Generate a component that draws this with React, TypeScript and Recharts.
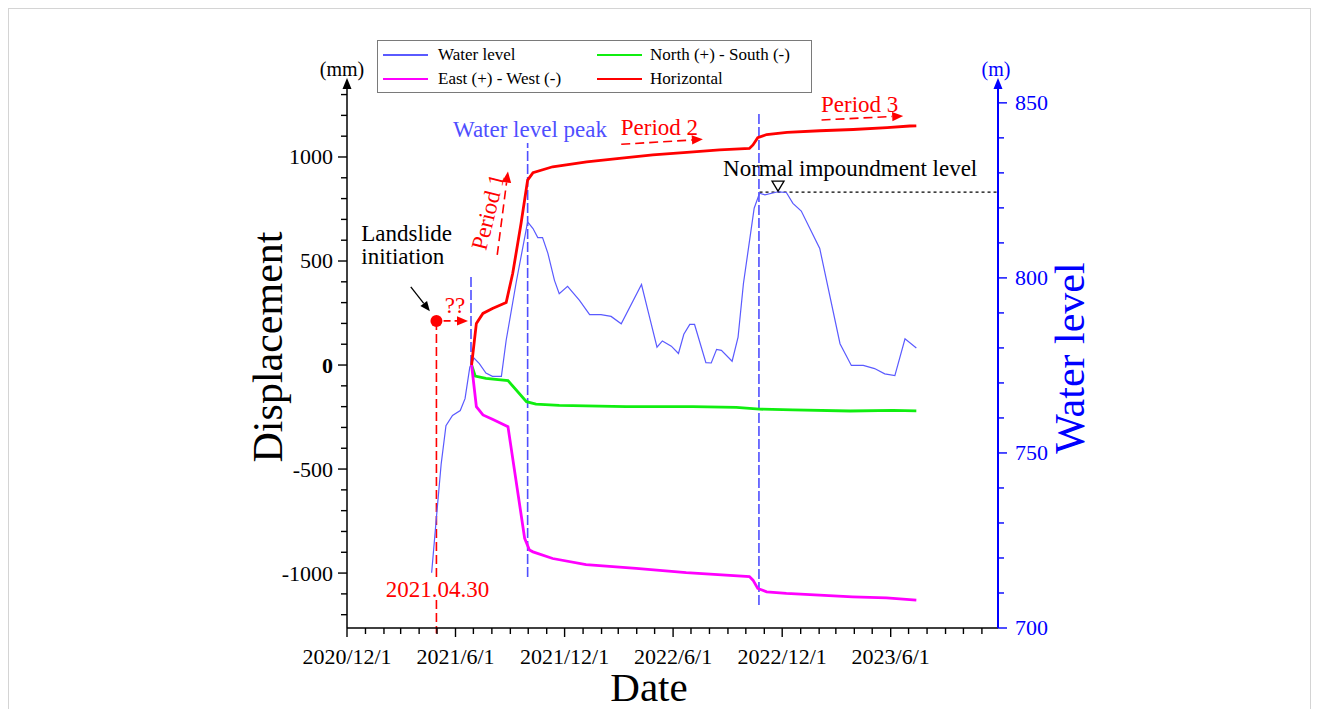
import React from 'react';
import { LineChart, Line, XAxis, YAxis, ReferenceLine, ReferenceDot, Legend, Label } from 'recharts';

const FONT = '"Liberation Serif", "Times New Roman", Times, serif';

// ---------- data ----------
const waterDates = ['2021-04-22','2021-04-30','2021-05-08','2021-05-16','2021-05-27','2021-06-09','2021-06-17','2021-06-25','2021-07-02','2021-07-11','2021-07-22','2021-08-02','2021-08-17','2021-08-25','2021-09-11','2021-09-30','2021-10-09','2021-10-17','2021-10-25','2021-11-03','2021-11-14','2021-11-22','2021-12-06','2021-12-26','2022-01-12','2022-01-31','2022-02-17','2022-03-06','2022-04-09','2022-04-20','2022-05-05','2022-05-14','2022-05-29','2022-06-10','2022-06-19','2022-06-29','2022-07-07','2022-07-26','2022-08-04','2022-08-13','2022-08-21','2022-09-08','2022-09-18','2022-09-27','2022-10-15','2022-10-24','2022-11-02','2022-11-24','2022-12-08','2022-12-19','2023-01-02','2023-02-02','2023-03-08','2023-03-27','2023-04-16','2023-05-05','2023-05-22','2023-06-08','2023-06-25','2023-07-14'];
const waterLevel = [715.8,731.6,746.9,757.8,760.7,762.1,765.5,774.5,777.1,775.5,772.8,771.9,771.9,782.2,798.9,816.0,814.1,811.5,811.5,807.0,799.3,795.5,797.6,793.6,789.5,789.5,789.0,786.9,798.1,790.5,780.2,782.0,780.5,778.4,783.9,786.7,786.7,775.8,775.7,779.6,779.3,776.2,783.1,798.4,819.9,824.2,823.7,824.6,824.4,821.3,819.1,808.4,781.2,775.0,775.0,774.1,772.6,772.1,782.6,780.0];

const horizDates = ['2021-06-28','2021-07-06','2021-07-17','2021-08-02','2021-08-25','2021-09-05','2021-09-19','2021-09-30','2021-10-09','2021-11-11','2022-01-07','2022-03-03','2022-04-28','2022-06-24','2022-08-18','2022-10-07','2022-10-13','2022-10-21','2022-11-05','2022-12-09','2023-02-02','2023-03-30','2023-05-26','2023-07-03','2023-07-14'];
const horizValues = [0,200,248,272,300,441,681,889,925,953,977,993,1010,1022,1034,1041,1058,1093,1108,1118,1126,1132,1141,1149,1150];

const nsDates = ['2021-06-28','2021-07-04','2021-07-22','2021-08-28','2021-09-28','2021-10-14','2021-11-22','2022-03-14','2022-07-04','2022-09-15','2022-10-24','2022-12-19','2023-03-25','2023-06-05','2023-07-14'];
const nsValues = [0,-53,-64,-75,-176,-188,-194,-200,-200,-204,-212,-216,-221,-218,-220];

const ewDates = ['2021-06-28','2021-07-06','2021-07-17','2021-08-02','2021-08-28','2021-09-25','2021-10-03','2021-10-09','2021-11-11','2022-01-06','2022-03-31','2022-06-23','2022-10-07','2022-10-13','2022-10-21','2022-11-05','2022-12-08','2023-03-29','2023-05-25','2023-07-14'];
const ewValues = [0,-200,-240,-261,-296,-833,-889,-898,-930,-959,-977,-998,-1017,-1034,-1074,-1090,-1098,-1114,-1119,-1130];

const xDomainDates = ['2020-12-01', '2023-11-28'];
const xMajorTickDates = ['2020-12-01','2021-06-01','2021-12-01','2022-06-01','2022-12-01','2023-06-01'];
const xMajorTickLabels = ['2020/12/1','2021/6/1','2021/12/1','2022/6/1','2022/12/1','2023/6/1'];
const leftDomain = [-1264, 1346];
const rightDomain = [700, 855.1];
const leftTicks = [-1200,-1100,-1000,-900,-800,-700,-600,-500,-400,-300,-200,-100,0,100,200,300,400,500,600,700,800,900,1000,1100,1200,1300];
const rightTicks = [700,710,720,730,740,750,760,770,780,790,800,810,820,830,840,850];

const initiationDate = '2021-04-30';
const initiationValue = 212;
const normalLevel = 824.5;
const peakLines = [
  { d: '2021-06-27', from: 0, to: 423 },
  { d: '2021-09-30', from: -1019, to: 1067 },
  { d: '2022-10-23', from: -1154, to: 1213 },
];

// ---------- helpers ----------
const toT = (s: string) => { const [y, m, d] = s.split('-').map(Number); return Date.UTC(y, m - 1, d); };
const xMin = toT(xDomainDates[0]);
const xMax = toT(xDomainDates[1]);
const majorTs = xMajorTickDates.map(toT);
const monthTicks: number[] = [];
for (let k = 0; k < 36; k++) monthTicks.push(Date.UTC(2020, 11 + k, 1));

const mk = (ds: string[], vs: number[]) => ds.map((d, i) => ({ t: toT(d), v: vs[i] }));
const waterData = mk(waterDates, waterLevel);
const horizData = mk(horizDates, horizValues);
const nsData = mk(nsDates, nsValues);
const ewData = mk(ewDates, ewValues);

const C_WATER = '#5a5aff';
const C_NS = '#10ee10';
const C_EW = '#ff00ff';
const C_H = '#ff0000';
const C_AXIS_R = '#0000ff';
const C_PEAK = '#4f4fff';

const XTick = (p: any) => {
  const v = p.payload.value;
  const i = majorTs.indexOf(v);
  const major = i >= 0;
  return (
    <g>
      <line x1={p.x} x2={p.x} y1={p.y} y2={p.y + (major ? 9 : 6)} stroke="#000" strokeWidth={1.4} />
      {major && (
        <text x={p.x} y={p.y + 36} textAnchor="middle" fontFamily={FONT} fontSize={22} fill="#000">{xMajorTickLabels[i]}</text>
      )}
    </g>
  );
};

const LeftTick = (p: any) => {
  const v = p.payload.value;
  const major = v % 500 === 0;
  return (
    <g>
      <line x1={p.x - (major ? 9 : 6)} x2={p.x} y1={p.y} y2={p.y} stroke="#000" strokeWidth={1.4} />
      {major && (
        <text x={p.x - 14} y={p.y} dy="0.34em" textAnchor="end" fontFamily={FONT} fontSize={22} fontWeight={v === 0 ? 'bold' : 'normal'} fill="#000">{v}</text>
      )}
    </g>
  );
};

const RightTick = (p: any) => {
  const v = p.payload.value;
  const major = v % 50 === 0;
  return (
    <g>
      <line x1={p.x} x2={p.x + (major ? 9 : 6)} y1={p.y} y2={p.y} stroke={C_AXIS_R} strokeWidth={1.4} />
      {major && (
        <text x={p.x + 17} y={p.y} dy="0.34em" textAnchor="start" fontFamily={FONT} fontSize={22} fill={C_AXIS_R}>{v}</text>
      )}
    </g>
  );
};

const arrowShape = (color: string, dash: string | undefined, width: number, head: number) => (p: any) => {
  const { x1, y1, x2, y2 } = p;
  const dx = x2 - x1, dy = y2 - y1;
  const len = Math.hypot(dx, dy) || 1;
  const ux = dx / len, uy = dy / len;
  const bx = x2 - ux * head, by = y2 - uy * head;
  const hw = head * 0.42;
  return (
    <g>
      <line x1={x1} y1={y1} x2={bx} y2={by} stroke={color} strokeWidth={width} strokeDasharray={dash} />
      <path d={`M${x2},${y2} L${bx - uy * hw},${by + ux * hw} L${bx + uy * hw},${by - ux * hw} Z`} fill={color} />
    </g>
  );
};

const textShape = (lines: string[], color: string, size: number, anchor: string, rotate = 0, lineGap = 23) => (p: any) => (
  <text
    x={p.cx}
    y={p.cy}
    textAnchor={anchor}
    dominantBaseline="central"
    fontFamily={FONT}
    fontSize={size}
    fill={color}
    transform={rotate ? `rotate(${rotate}, ${p.cx}, ${p.cy})` : undefined}
  >
    {lines.map((l, i) => (
      <tspan key={i} x={p.cx} dy={i === 0 ? 0 : lineGap}>{l}</tspan>
    ))}
  </text>
);

const annotations = [
  { d: '2020-12-25', v: 637, text: ['Landslide', 'initiation'], color: '#000', anchor: 'start', rot: 0 },
  { d: '2021-05-31', v: 290, text: ['??'], color: C_H, anchor: 'middle', rot: 0 },
  { d: '2021-07-25', v: 736, text: ['Period 1'], color: C_H, anchor: 'middle', rot: -76 },
  { d: '2021-10-04', v: 1135, text: ['Water level peak'], color: C_PEAK, anchor: 'middle', rot: 0 },
  { d: '2022-05-09', v: 1144, text: ['Period 2'], color: C_H, anchor: 'middle', rot: 0 },
  { d: '2023-04-10', v: 1255, text: ['Period 3'], color: C_H, anchor: 'middle', rot: 0 },
  { d: '2023-03-25', v: 947, text: ['Normal impoundment level'], color: '#000', anchor: 'middle', rot: 0 },
  { d: '2021-05-02', v: -1077, text: ['2021.04.30'], color: C_H, anchor: 'middle', rot: 0 },
];

const arrows = [
  { a: ['2021-03-18', 376], b: ['2021-04-19', 258], color: '#000', dash: undefined, w: 1.3, head: 10 },
  { a: ['2021-05-12', 212], b: ['2021-06-22', 212], color: C_H, dash: '7 4', w: 1.6, head: 11 },
  { a: ['2021-08-10', 529], b: ['2021-08-28', 930], color: C_H, dash: '9 5', w: 1.6, head: 11 },
  { a: ['2022-03-06', 1061], b: ['2022-07-21', 1085], color: C_H, dash: '9 5', w: 1.6, head: 11 },
  { a: ['2023-02-05', 1178], b: ['2023-06-22', 1197], color: C_H, dash: '9 5', w: 1.6, head: 11 },
];

const legendOrder = ['Water level', 'North (+) - South (-)', 'East (+) - West (-)', 'Horizontal'];
const LegendBox = (props: any) => {
  const payload = props.payload || [];
  const items = legendOrder.map((n) => payload.find((p: any) => p.value === n)).filter(Boolean);
  return (
    <div style={{ position: 'relative', width: 433, height: 51, border: '1.5px solid #7a7a7a', background: '#fff', fontFamily: FONT, fontSize: 17, color: '#000' }}>
      {items.map((p: any, i: number) => {
        const col = i % 2, row = Math.floor(i / 2);
        return (
          <div key={p.value} style={{ position: 'absolute', left: col ? 219 : 5, top: row ? 28 : 4, height: 20, display: 'flex', alignItems: 'center', whiteSpace: 'nowrap' }}>
            <span style={{ display: 'inline-block', width: 45, borderTop: `2px solid ${p.color}`, marginRight: col ? 8 : 10 }} />
            <span style={{ lineHeight: '20px' }}>{p.value}</span>
          </div>
        );
      })}
    </div>
  );
};

const LeftArrow = (p: any) => (
  <g>
    <path d={`M${p.cx},${p.cy - 7} L${p.cx - 4.5},${p.cy + 4} L${p.cx + 4.5},${p.cy + 4} Z`} fill="#000" />
    <text x={p.cx - 5} y={p.cy - 9} textAnchor="middle" fontFamily={FONT} fontSize={20} fill="#000">(mm)</text>
  </g>
);
const RightArrow = (p: any) => (
  <g>
    <path d={`M${p.cx},${p.cy - 7} L${p.cx - 4.5},${p.cy + 4} L${p.cx + 4.5},${p.cy + 4} Z`} fill={C_AXIS_R} />
    <text x={p.cx - 2} y={p.cy - 9} textAnchor="middle" fontFamily={FONT} fontSize={20} fill={C_AXIS_R}>(m)</text>
  </g>
);
const Triangle = (p: any) => (
  <path d={`M${p.cx - 6},${p.cy - 11} L${p.cx + 6},${p.cy - 11} L${p.cx},${p.cy - 1} Z`} fill="#fff" stroke="#000" strokeWidth={1.3} />
);
const RedDot = (p: any) => <circle cx={p.cx} cy={p.cy} r={6} fill={C_H} />;

export default function App() {
  return (
    <div style={{ width: 1303, height: 701, boxSizing: 'border-box', borderTop: '1px solid #d4d4d4', borderLeft: '1px solid #d4d4d4', borderRight: '1px solid #d4d4d4', fontFamily: FONT, background: '#fff' }}>
      <LineChart width={1301} height={700} margin={{ top: 76, right: 232, bottom: 51, left: 258 }}>
        <XAxis
          dataKey="t"
          type="number"
          domain={[xMin, xMax]}
          allowDataOverflow
          ticks={monthTicks}
          interval={0}
          tick={<XTick />}
          tickLine={false}
          tickSize={0}
          tickMargin={0}
          height={30}
          axisLine={{ stroke: '#000', strokeWidth: 1.5 }}
        >
          <Label
            content={(props: any) => {
              const vb = props.viewBox || { x: 0, y: 0, width: 0, height: 0 };
              return (
                <text x={vb.x + 302} y={vb.y + 59} textAnchor="middle" dominantBaseline="central" fontFamily={FONT} fontSize={41} fill="#000">Date</text>
              );
            }}
          />
        </XAxis>
        <YAxis
          yAxisId="left"
          type="number"
          domain={leftDomain}
          allowDataOverflow
          ticks={leftTicks}
          interval={0}
          tick={<LeftTick />}
          tickLine={false}
          tickSize={0}
          tickMargin={0}
          width={80}
          axisLine={{ stroke: '#000', strokeWidth: 1.5 }}
        >
          <Label
            content={(props: any) => {
              const vb = props.viewBox || { x: 0, y: 0, width: 0, height: 0 };
              const cx = vb.x + 1, cy = vb.y + vb.height / 2 - 9.5;
              return (
                <text x={cx} y={cy} transform={`rotate(-90, ${cx}, ${cy})`} textAnchor="middle" dominantBaseline="central" fontFamily={FONT} fontSize={42} fill="#000">Displacement</text>
              );
            }}
          />
        </YAxis>
        <YAxis
          yAxisId="right"
          orientation="right"
          type="number"
          domain={rightDomain}
          allowDataOverflow
          ticks={rightTicks}
          interval={0}
          tick={<RightTick />}
          tickLine={false}
          tickSize={0}
          tickMargin={0}
          width={80}
          axisLine={{ stroke: C_AXIS_R, strokeWidth: 2 }}
        >
          <Label
            content={(props: any) => {
              const vb = props.viewBox || { x: 0, y: 0, width: 0, height: 0 };
              const cx = vb.x + 72, cy = vb.y + vb.height / 2 + 1.5;
              return (
                <text x={cx} y={cy} transform={`rotate(-90, ${cx}, ${cy})`} textAnchor="middle" dominantBaseline="central" fontFamily={FONT} fontSize={42} fill={C_AXIS_R}>Water level</text>
              );
            }}
          />
        </YAxis>

        <Legend verticalAlign="middle" align="center" layout="horizontal" content={<LegendBox />} wrapperStyle={{ left: 368, top: 31, width: 'auto', height: 'auto' }} />

        {/* normal impoundment level */}
        <ReferenceLine yAxisId="right" segment={[{ x: toT('2022-10-24'), y: normalLevel }, { x: xMax, y: normalLevel }]} stroke="#000" strokeWidth={1.2} strokeDasharray="3 3" ifOverflow="visible" />

        {/* peak / event vertical lines */}
        {peakLines.map((l, i) => (
          <ReferenceLine key={`pk${i}`} yAxisId="left" segment={[{ x: toT(l.d), y: l.from }, { x: toT(l.d), y: l.to }]} stroke={C_PEAK} strokeWidth={1.6} strokeDasharray="10 3" ifOverflow="visible" />
        ))}
        <ReferenceLine yAxisId="left" segment={[{ x: toT(initiationDate), y: initiationValue }, { x: toT(initiationDate), y: -1019 }]} stroke={C_H} strokeWidth={1.6} strokeDasharray="9 4" ifOverflow="visible" />
        <ReferenceLine yAxisId="left" segment={[{ x: toT(initiationDate), y: -1130 }, { x: toT(initiationDate), y: -1290 }]} stroke={C_H} strokeWidth={1.6} strokeDasharray="9 4" ifOverflow="visible" />

        <Line yAxisId="right" data={waterData} dataKey="v" name="Water level" stroke={C_WATER} strokeWidth={1.2} dot={false} isAnimationActive={false} type="linear" />
        <Line yAxisId="left" data={nsData} dataKey="v" name="North (+) - South (-)" stroke={C_NS} strokeWidth={2.8} dot={false} isAnimationActive={false} type="linear" />
        <Line yAxisId="left" data={ewData} dataKey="v" name="East (+) - West (-)" stroke={C_EW} strokeWidth={2.8} dot={false} isAnimationActive={false} type="linear" />
        <Line yAxisId="left" data={horizData} dataKey="v" name="Horizontal" stroke={C_H} strokeWidth={2.8} dot={false} isAnimationActive={false} type="linear" />

        {arrows.map((a, i) => (
          <ReferenceLine
            key={`ar${i}`}
            yAxisId="left"
            segment={[{ x: toT(a.a[0] as string), y: a.a[1] as number }, { x: toT(a.b[0] as string), y: a.b[1] as number }]}
            ifOverflow="visible"
            shape={arrowShape(a.color, a.dash, a.w, a.head)}
          />
        ))}

        <ReferenceDot yAxisId="left" x={toT(initiationDate)} y={initiationValue} r={6} ifOverflow="visible" shape={RedDot} />
        <ReferenceDot yAxisId="right" x={toT('2022-11-24')} y={normalLevel} r={6} ifOverflow="visible" shape={Triangle} />
        <ReferenceDot yAxisId="left" x={xMin} y={leftDomain[1]} r={1} ifOverflow="visible" shape={LeftArrow} />
        <ReferenceDot yAxisId="right" x={xMax} y={rightDomain[1]} r={1} ifOverflow="visible" shape={RightArrow} />

        {annotations.map((a, i) => (
          <ReferenceDot key={`an${i}`} yAxisId="left" x={toT(a.d)} y={a.v} r={1} ifOverflow="visible" shape={textShape(a.text, a.color, 23, a.anchor, a.rot)} />
        ))}
      </LineChart>
    </div>
  );
}
